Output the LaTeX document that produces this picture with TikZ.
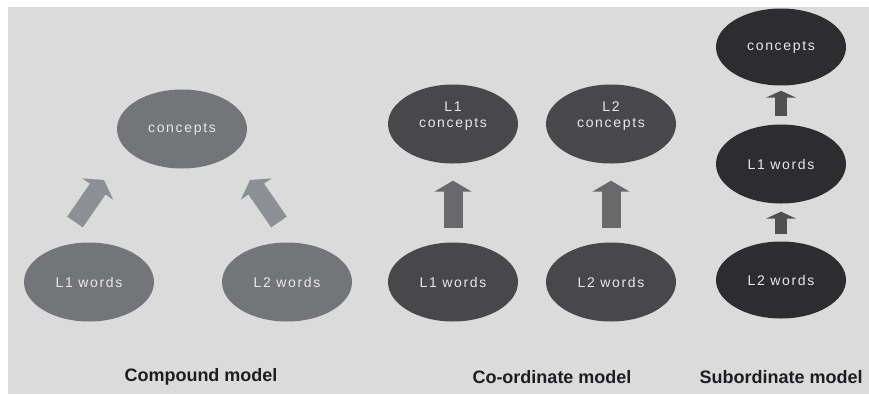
\documentclass[tikz,border=0pt]{standalone}
\usepackage{fontspec}
\setmainfont{Liberation Sans}
\usetikzlibrary{arrows.meta,shapes.geometric}
\definecolor{bg}{HTML}{DBDBDB}
\definecolor{cmpfill}{HTML}{747578}
\definecolor{cmparrow}{HTML}{8C8F94}
\definecolor{corfill}{HTML}{48484B}
\definecolor{corarrow}{HTML}{69696B}
\definecolor{subfill}{HTML}{2D2D30}
\definecolor{subarrow}{HTML}{505053}
\definecolor{intext}{HTML}{E8E8EA}
\definecolor{labtext}{HTML}{1E1E22}
\tikzset{
  blob/.style={ellipse, minimum width=130pt, minimum height=79pt, inner sep=0pt,
    text=intext, align=center,
    font=\fontsize{14}{17}\selectfont\addfontfeature{LetterSpace=12}},
  cmp/.style={blob, fill=cmpfill},
  cor/.style={blob, fill=corfill},
  sub/.style={blob, fill=subfill},
  bigarrow/.style={line width=19pt, -{Triangle[length=11pt 0, width=37pt 0]}},
  smallarrow/.style={line width=12pt, -{Triangle[length=7pt 0, width=30pt 0]}},
  modellabel/.style={font=\fontsize{18}{20}\selectfont\bfseries, text=labtext, inner sep=0pt}
}
\begin{document}
\begin{tikzpicture}[x=1pt,y=-1pt]
\useasboundingbox (0,0) rectangle (869,394);
\fill[white] (0,0) rectangle (869,394);
\fill[bg] (8,7) rectangle (869,394);

% Compound model
\node[cmp] (cc) at (182,129) {concepts};
\node[cmp] (cw1) at (89,282) {L1 words};
\node[cmp] (cw2) at (287,282) {L2 words};
\coordinate (ca1) at (75,222);
\coordinate (cb1) at (104,180);
\coordinate (ca2) at (279,222);
\coordinate (cb2) at (250,180);
\draw[bigarrow, cmparrow] (ca1) -- (cb1);
\draw[bigarrow, cmparrow] (ca2) -- (cb2);
\node[modellabel] (lcmp) at (201,377) {Compound model};

% Co-ordinate model
\node[cor] (kc1) at (453,124) {L1\\[-1pt]concepts\\[2pt]};
\node[cor] (kc2) at (611,124) {L2\\[-1pt]concepts\\[2pt]};
\node[cor] (kw1) at (453,282) {L1 words};
\node[cor] (kw2) at (611,282) {L2 words};
\draw[bigarrow, corarrow, shorten <=14pt, shorten >=17pt] (kw1.north) -- (kc1.south);
\draw[bigarrow, corarrow, shorten <=14pt, shorten >=17pt] (kw2.north) -- (kc2.south);
\node[modellabel] (lcor) at (552,377) {Co-ordinate model};

% Subordinate model
\node[sub, minimum height=77pt] (sc) at (781,47) {concepts};
\node[sub] (sw1) at (781,164) {L1 words};
\node[sub, minimum height=77pt] (sw2) at (781,280) {L2 words};
\draw[smallarrow, subarrow, shorten <=8pt, shorten >=5pt] (sw1.north) -- (sc.south);
\draw[smallarrow, subarrow, shorten <=7pt, shorten >=8pt] (sw2.north) -- (sw1.south);
\node[modellabel] (lsub) at (781,377) {Subordinate model};
\end{tikzpicture}
\end{document}
